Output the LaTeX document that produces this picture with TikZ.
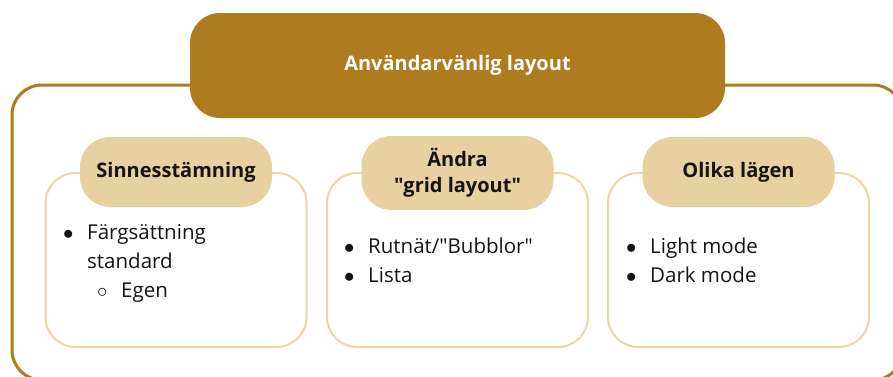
\documentclass[tikz,border=0pt]{standalone}
\usepackage{fontspec}
\setmainfont{Open Sans}
\usetikzlibrary{positioning}
\definecolor{lygold}{HTML}{AE7B1E}
\definecolor{lysand}{HTML}{E8D1A0}
\definecolor{lyedge}{HTML}{EBD6AC}
\definecolor{lyink}{HTML}{141414}
\newcommand{\lybul}{\makebox[38pt]{$\bullet$}}

\begin{document}
\begin{tikzpicture}[
  x=1pt, y=-1pt,
  frame/.style={draw=lygold, line width=3pt, rounded corners=30pt},
  title/.style={
    rectangle, fill=lygold, rounded corners=30pt,
    minimum width=535pt, minimum height=105pt, text=white,
    font=\fontsize{20}{24}\selectfont\bfseries
  },
  card/.style={
    rectangle, draw=lyedge, line width=2pt, fill=white, rounded corners=30pt,
    minimum width=261pt, minimum height=174pt
  },
  pill/.style={
    rectangle, fill=lysand, rounded corners=30pt,
    minimum width=192pt, minimum height=70pt, align=center,
    text=lyink, font=\fontsize{20}{26}\selectfont\bfseries
  },
  body/.style={
    anchor=base west, inner sep=0pt, align=left, text=lyink,
    font=\fontsize{20.5}{29}\selectfont
  },
]
  \useasboundingbox (0,0) rectangle (893,376);

  % Frame and title
  \draw[frame] (903,85) rectangle (12,380);
  \node[title] (title) at (457.5,65.5) {Användarvänlig layout};

  % Cards
  \node[card] (mood) at (176,260) {};
  \node[card] (grid) at (457.5,260) {};
  \node[card] (mode) at (738.5,260) {};

  % Headers
  \node[pill] (moodhead) at (mood.north) {Sinnesstämning};
  \node[pill, minimum height=74pt] (gridhead) at ([yshift=-1pt]grid.north)
    {Ändra\\\textquotedbl grid layout\textquotedbl};
  \node[pill] (modehead) at (mode.north) {Olika lägen};

  % Lists (anchored at the last line)
  \node[body] (moodlist) at (49,297) {%
    \lybul Färgsättning\\
    \hspace*{38pt}standard\\
    \hspace*{34pt}\makebox[38pt]{$\circ$}Egen};
  \node[body] (gridlist) at (330,282) {%
    \lybul Rutnät/\textquotedbl Bubblor\textquotedbl\\
    \lybul Lista};
  \node[body] (modelist) at (612,282) {%
    \lybul Light mode\\
    \lybul Dark mode};
\end{tikzpicture}
\end{document}
